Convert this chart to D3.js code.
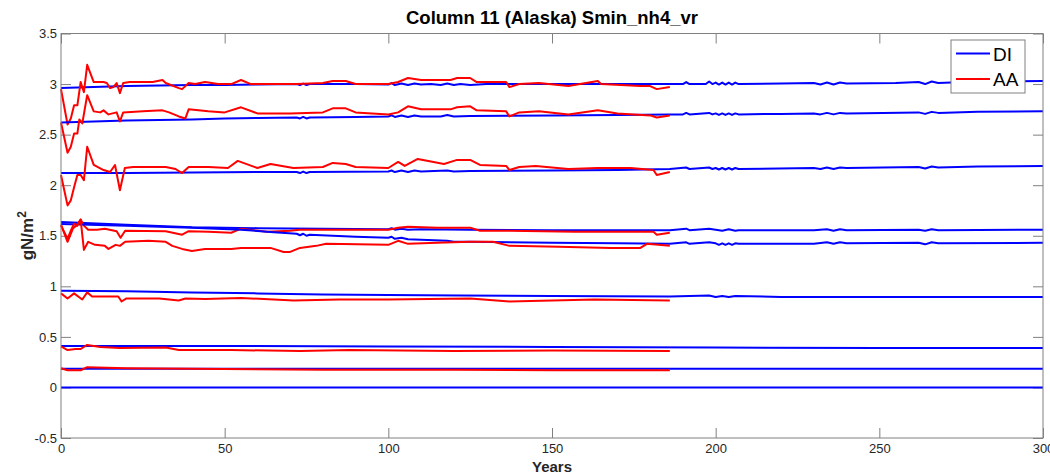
<!DOCTYPE html>
<html>
<head>
<meta charset="utf-8">
<script src="https://cdn.jsdelivr.net/npm/d3@7"></script>
<style>
  body { margin: 0; background: #fff; }
  svg { display: block; font-family: "Liberation Sans", Arial, Helvetica, sans-serif; }
</style>
</head>
<body>
<svg id="chart"></svg>
<script>
// x ticks, y ticks
const xTicks = [0, 50, 100, 150, 200, 250, 300];
const yTicks = [-0.5, 0, 0.5, 1, 1.5, 2, 2.5, 3, 3.5];

// DI runs (blue), [year, value]
const di1 = [[0,2.96],[10,2.97],[20,2.98],[30,2.985],[40,2.99],[50,2.99],[60,2.995],[72,3.0],[73,2.99],[74,3.005],[75,2.99],[76,3.0],[90,3.0],[100,2.995],[101,3.01],[102,2.99],[104,3.005],[106,2.99],[108,3.005],[110,2.995],[113,3.0],[116,2.99],[118,3.005],[120,2.99],[122,3.0],[125,2.99],[130,3.0],[150,3.0],[170,3.0],[186,3.0],[190,3.0],[191,3.02],[192,3.0],[197,3.0],[198,3.025],[199,3.0],[200,3.015],[201,2.995],[202,3.015],[203,2.995],[204,3.015],[205,2.995],[206,3.015],[207,3.0],[220,3.005],[230,3.01],[232,2.995],[234,3.015],[236,2.995],[238,3.015],[240,3.005],[255,3.01],[262,3.02],[264,3.0],[266,3.025],[268,3.01],[280,3.025],[300,3.03]];
const di2 = [[0,2.62],[10,2.63],[20,2.64],[30,2.645],[40,2.65],[50,2.66],[60,2.665],[72,2.67],[73,2.66],[74,2.675],[75,2.66],[76,2.67],[90,2.675],[100,2.68],[101,2.69],[102,2.675],[104,2.69],[106,2.675],[108,2.69],[110,2.68],[116,2.68],[118,2.695],[120,2.68],[125,2.685],[150,2.69],[170,2.695],[186,2.70],[190,2.70],[191,2.715],[192,2.70],[198,2.715],[199,2.70],[200,2.71],[201,2.695],[202,2.71],[203,2.695],[204,2.71],[205,2.695],[206,2.71],[207,2.70],[220,2.705],[230,2.71],[232,2.70],[234,2.715],[236,2.70],[238,2.715],[240,2.71],[262,2.72],[264,2.705],[266,2.725],[268,2.715],[280,2.725],[300,2.73]];
const di3 = [[0,2.12],[20,2.12],[40,2.125],[60,2.13],[72,2.13],[73,2.12],[74,2.135],[75,2.12],[76,2.13],[100,2.135],[101,2.145],[102,2.13],[104,2.145],[106,2.13],[108,2.145],[110,2.135],[118,2.145],[120,2.135],[125,2.14],[150,2.145],[170,2.15],[186,2.16],[191,2.175],[192,2.16],[198,2.175],[199,2.16],[200,2.17],[201,2.155],[202,2.17],[203,2.155],[204,2.17],[205,2.155],[206,2.17],[207,2.16],[230,2.17],[232,2.16],[234,2.175],[236,2.16],[238,2.175],[240,2.17],[262,2.18],[264,2.165],[266,2.185],[268,2.175],[280,2.185],[300,2.19]];
const di4 = [[0,1.635],[20,1.61],[40,1.585],[60,1.575],[80,1.57],[100,1.565],[101,1.575],[102,1.56],[104,1.57],[106,1.56],[110,1.565],[125,1.56],[150,1.555],[186,1.555],[191,1.57],[192,1.555],[198,1.57],[200,1.56],[202,1.55],[204,1.565],[206,1.55],[207,1.555],[230,1.555],[234,1.565],[236,1.55],[238,1.565],[240,1.555],[262,1.56],[264,1.55],[266,1.565],[268,1.555],[300,1.56]];
const di5 = [[0,1.615],[20,1.60],[40,1.58],[55,1.56],[65,1.535],[72,1.52],[73,1.505],[74,1.52],[75,1.5],[76,1.51],[90,1.49],[100,1.48],[101,1.49],[102,1.47],[104,1.48],[106,1.465],[110,1.46],[118,1.45],[120,1.44],[125,1.44],[150,1.43],[170,1.425],[186,1.42],[191,1.435],[192,1.42],[198,1.435],[200,1.425],[201,1.41],[202,1.425],[203,1.41],[204,1.425],[205,1.41],[206,1.425],[207,1.42],[230,1.42],[234,1.435],[236,1.42],[238,1.435],[240,1.425],[262,1.43],[264,1.415],[266,1.435],[268,1.425],[300,1.43]];
const di6 = [[0,0.955],[20,0.95],[40,0.94],[60,0.93],[80,0.92],[100,0.915],[122,0.91],[150,0.905],[186,0.90],[198,0.91],[200,0.895],[202,0.905],[204,0.895],[206,0.905],[220,0.895],[300,0.895]];
const di7 = [[0,0.41],[50,0.41],[100,0.405],[150,0.40],[200,0.395],[250,0.39],[300,0.39]];
const di8 = [[0,0.185],[100,0.185],[200,0.185],[300,0.185]];
const di9 = [[0,0],[300,0]];

// AA runs (red), [year, value]
const aa1 = [[0,2.95],[2,2.60],[3,2.66],[4,2.79],[5,2.79],[6,3.02],[7,2.92],[8,3.19],[10,3.02],[13,3.02],[14,3.01],[15,2.96],[16,2.97],[17,3.01],[18,2.91],[19,3.01],[21,3.02],[28,3.02],[31,3.04],[32,3.01],[36,2.96],[37,2.95],[39,3.01],[41,3.0],[44,3.02],[48,3.0],[52,3.0],[55,3.04],[58,3.0],[65,3.0],[72,3.0],[80,3.01],[83,3.03],[87,3.03],[90,3.0],[100,3.0],[103,3.02],[106,3.06],[110,3.04],[119,3.04],[121,3.06],[125,3.06],[127,3.02],[136,3.02],[137,2.97],[140,3.0],[146,3.01],[155,2.98],[164,3.03],[165,3.0],[177,2.98],[180,2.98],[182,2.95],[186,2.97]];
const aa2 = [[0,2.62],[2,2.32],[3,2.38],[4,2.51],[5,2.51],[5.6,2.65],[6.5,2.61],[8,2.89],[10,2.73],[12,2.72],[13,2.74],[14.5,2.70],[17,2.72],[18,2.63],[19,2.72],[25,2.73],[31,2.74],[33,2.72],[36,2.68],[38,2.66],[39,2.75],[45,2.73],[50,2.72],[55,2.77],[60,2.71],[70,2.71],[80,2.72],[83,2.76],[87,2.76],[90,2.72],[100,2.70],[103,2.72],[106,2.78],[110,2.75],[119,2.75],[121,2.77],[125,2.78],[127,2.74],[136,2.73],[137,2.68],[140,2.72],[146,2.73],[155,2.70],[164,2.74],[170,2.71],[180,2.69],[182,2.67],[186,2.69]];
const aa3 = [[0,2.10],[1,1.95],[2,1.80],[3,1.85],[4,1.98],[5,2.10],[6,2.10],[7,2.05],[8,2.38],[10,2.20],[13,2.15],[15,2.13],[16.5,2.20],[18,1.95],[19.5,2.17],[22,2.18],[32,2.18],[35,2.16],[37,2.12],[39,2.18],[45,2.18],[51,2.17],[54,2.24],[60,2.17],[64,2.21],[71,2.17],[80,2.18],[83,2.22],[87,2.21],[90,2.18],[100,2.17],[103,2.23],[105,2.19],[109,2.26],[117,2.21],[121,2.25],[125,2.25],[128,2.20],[136,2.19],[137,2.15],[140,2.18],[145,2.19],[155,2.16],[164,2.17],[174,2.17],[181,2.15],[182,2.10],[186,2.13]];
const aa4 = [[0,1.61],[2,1.44],[3.7,1.575],[4.7,1.60],[6,1.66],[7,1.60],[8.3,1.56],[11,1.56],[13.4,1.57],[17,1.545],[18.2,1.48],[19.6,1.55],[32,1.545],[37,1.51],[39,1.545],[45,1.54],[52,1.53],[55,1.57],[63,1.54],[70,1.55],[73,1.56],[83,1.56],[90,1.56],[100,1.56],[103,1.58],[106,1.59],[115,1.58],[125,1.58],[128,1.55],[137,1.55],[157,1.54],[181,1.54],[182,1.51],[186,1.53]];
const aa5 = [[0,1.60],[2,1.47],[3,1.55],[4,1.62],[5,1.60],[6,1.66],[7,1.36],[8.3,1.44],[10.4,1.41],[13.4,1.40],[14.5,1.37],[16.7,1.41],[18,1.40],[19.6,1.44],[26.7,1.45],[32,1.44],[34,1.40],[37,1.37],[40,1.35],[44,1.37],[52,1.37],[55,1.38],[64,1.38],[68,1.34],[70,1.34],[73,1.38],[78,1.40],[81,1.42],[100,1.41],[103,1.45],[106,1.42],[115,1.43],[125,1.44],[132,1.44],[137,1.40],[152,1.39],[168,1.38],[177,1.38],[179,1.42],[186,1.40]];
const aa6 = [[0,0.93],[2,0.88],[4,0.93],[6.5,0.87],[8,0.94],[9.5,0.90],[13,0.90],[17.5,0.90],[18.5,0.85],[20,0.88],[30,0.88],[36,0.86],[38,0.88],[44,0.875],[55,0.885],[71,0.86],[85,0.87],[100,0.87],[125,0.88],[137,0.85],[150,0.86],[163,0.87],[186,0.86]];
const aa7 = [[0,0.405],[2,0.37],[4.5,0.38],[6,0.38],[8,0.42],[12,0.40],[18,0.39],[32,0.395],[36,0.37],[52,0.37],[73,0.36],[88,0.37],[120,0.36],[150,0.365],[186,0.36]];
const aa8 = [[0,0.19],[2,0.17],[6,0.17],[8,0.20],[20,0.19],[40,0.185],[80,0.175],[120,0.175],[150,0.17],[186,0.17]];

const diRuns = [di1, di2, di3, di4, di5, di6, di7, di8, di9];
const aaRuns = [aa1, aa2, aa3, aa4, aa5, aa6, aa7, aa8];
const legendNames = ['DI', 'AA'];
const colors = { DI: '#0000ff', AA: '#ff0000' };

const width = 1050, height = 476;
const margin = { top: 33.5, right: 7, bottom: 38, left: 61 };

const svg = d3.select('#chart').attr('width', width).attr('height', height);

const x = d3.scaleLinear().domain([0, 300]).range([margin.left, width - margin.right]);
const y = d3.scaleLinear().domain([-0.5, 3.5]).range([height - margin.bottom, margin.top]);

const axisColor = '#808080';
const textColor = '#262626';

// axes with inward ticks, like the MATLAB box
const gx = svg.append('g').attr('transform', `translate(0,${y(-0.5)})`)
  .call(d3.axisBottom(x).tickValues(xTicks).tickSize(-10).tickPadding(6).tickFormat(d3.format('d')));
const gy = svg.append('g').attr('transform', `translate(${x(0)},0)`)
  .call(d3.axisLeft(y).tickValues(yTicks).tickSize(-10).tickPadding(4).tickFormat(d => String(d)));
const gt = svg.append('g').attr('transform', `translate(0,${y(3.5)})`)
  .call(d3.axisTop(x).tickValues(xTicks).tickSize(-10).tickFormat(''));
const gr = svg.append('g').attr('transform', `translate(${x(300)},0)`)
  .call(d3.axisRight(y).tickValues(yTicks).tickSize(-10).tickFormat(''));

[gx, gy, gt, gr].forEach(g => {
  g.select('.domain').remove();
  g.selectAll('line').attr('stroke', axisColor);
  g.selectAll('text').attr('fill', textColor).style('font-size', '13px');
});

const line = d3.line().x(d => x(d[0])).y(d => y(d[1]));

const plot = svg.append('g');
diRuns.forEach((run, i) => {
  plot.append('path').datum(run).attr('d', line)
    .attr('fill', 'none').attr('stroke', colors.DI).attr('stroke-width', 2)
    .attr('stroke-linejoin', 'round');
  if (aaRuns[i]) {
    plot.append('path').datum(aaRuns[i]).attr('d', line)
      .attr('fill', 'none').attr('stroke', colors.AA).attr('stroke-width', 2)
      .attr('stroke-linejoin', 'round');
  }
});

// box
svg.append('rect')
  .attr('x', x(0)).attr('y', y(3.5))
  .attr('width', x(300) - x(0)).attr('height', y(-0.5) - y(3.5))
  .attr('fill', 'none').attr('stroke', axisColor).attr('stroke-width', 1);

// title and labels
svg.append('text')
  .attr('x', (x(0) + x(300)) / 2).attr('y', 24)
  .attr('text-anchor', 'middle').attr('font-weight', 'bold')
  .style('font-size', '18.5px').attr('fill', '#000')
  .text('Column 11 (Alaska) Smin_nh4_vr');

svg.append('text')
  .attr('x', (x(0) + x(300)) / 2).attr('y', 472)
  .attr('text-anchor', 'middle').attr('font-weight', 'bold')
  .style('font-size', '15px').attr('fill', textColor)
  .text('Years');

const yl = svg.append('text')
  .attr('transform', `translate(33,${(y(3.5) + y(-0.5)) / 2}) rotate(-90)`)
  .attr('text-anchor', 'middle').attr('font-weight', 'bold')
  .style('font-size', '17px').attr('fill', textColor);
yl.append('tspan').text('gN/m');
yl.append('tspan').attr('dy', -7).style('font-size', '12px').text('2');

// legend
const lg = svg.append('g').attr('transform', 'translate(951,40)');
lg.append('rect').attr('width', 74).attr('height', 53)
  .attr('fill', '#fff').attr('stroke', axisColor).attr('stroke-width', 1);
legendNames.forEach((name, i) => {
  const ly = 13.5 + i * 25.5;
  lg.append('line').attr('x1', 5).attr('x2', 39).attr('y1', ly).attr('y2', ly)
    .attr('stroke', colors[name]).attr('stroke-width', 2);
  lg.append('text').attr('x', 42).attr('y', ly + 7)
    .style('font-size', '19px').attr('fill', '#000').text(name);
});
</script>
</body>
</html>
